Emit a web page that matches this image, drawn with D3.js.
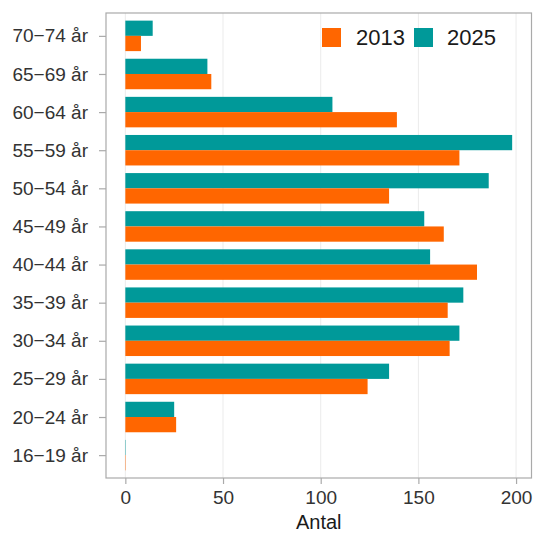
<!DOCTYPE html>
<html><head><meta charset="utf-8">
<script src="https://cdn.jsdelivr.net/npm/d3@7"></script>
<style>body{margin:0;background:#fff}text{font-family:"Liberation Sans",Arial,sans-serif}</style>
</head><body><svg id="c" width="534" height="534"></svg>
<script>
const categories = ["70−74 år","65−69 år","60−64 år","55−59 år","50−54 år","45−49 år","40−44 år","35−39 år","30−34 år","25−29 år","20−24 år","16−19 år"];
const series = ["2025","2013"];
const values2013 = [8,44,139,171,135,163,180,165,166,124,26,0.2];
const values2025 = [14,42,106,198,186,153,156,173,171,135,25,0.2];
const xTicks = [0,50,100,150,200];
const colors = {"2013":"#FF6600","2025":"#009999"};

const svg = d3.select("#c");
const L=106, R=531.5, T=13, B=478;
const maxV = d3.max(values2013.concat(values2025));
const x = d3.scaleLinear().domain([-maxV*0.05, maxV*1.05]).range([L,R]);
const step = (B-T)/(categories.length-1+1.2);
const y = d3.scalePoint().domain(categories).range([T+0.6*step, B-0.6*step]);
const inner = d3.scaleBand().domain(series).range([-0.4*step,0.4*step]);

// grid
svg.append("g").selectAll("line").data(xTicks).join("line")
  .attr("x1",d=>x(d)).attr("x2",d=>x(d)).attr("y1",T).attr("y2",B)
  .attr("stroke","#ebebeb").attr("stroke-width",1);

const data = categories.map((c,i)=>({c, "2013":values2013[i], "2025":values2025[i]}));
svg.append("g").selectAll("g").data(data).join("g")
  .attr("transform",d=>`translate(0,${y(d.c)})`)
  .selectAll("rect").data(d=>series.map(s=>({s,v:d[s]}))).join("rect")
  .attr("x",x(0)).attr("y",d=>inner(d.s)).attr("height",inner.bandwidth())
  .attr("width",d=>x(d.v)-x(0)).attr("fill",d=>colors[d.s]);

// frame
svg.append("rect").attr("x",L).attr("y",T).attr("width",R-L).attr("height",B-T)
  .attr("fill","none").attr("stroke","#aaa").attr("stroke-width",1.2);

// axes
const xa = svg.append("g").attr("transform",`translate(0,${B})`)
  .call(d3.axisBottom(x).tickValues(xTicks).tickSize(6).tickPadding(5));
const ya = svg.append("g").attr("transform",`translate(${L},0)`)
  .call(d3.axisLeft(y).tickSize(7).tickPadding(11));
[xa,ya].forEach(a=>{a.select(".domain").remove();
  a.selectAll(".tick line").attr("stroke","#aaa").attr("stroke-width",1.2);
  a.selectAll(".tick text").attr("fill","#333").style("font-size","19px").style("font-family","'Liberation Sans',Arial,sans-serif");});
xa.selectAll(".tick text").attr("dy","0.8em");

svg.append("text").attr("x",(L+R)/2).attr("y",529).attr("text-anchor","middle")
  .attr("fill","#1a1a1a").style("font-size","20px").text("Antal");

// legend
const leg = [["2013",322,356],["2025",414,447]];
leg.forEach(([s,rx,tx])=>{
  svg.append("rect").attr("x",rx).attr("y",28).attr("width",19).attr("height",19).attr("fill",colors[s]);
  svg.append("text").attr("x",tx).attr("y",45).attr("fill","#1a1a1a").style("font-size","22px").text(s);
});
</script></body></html>
